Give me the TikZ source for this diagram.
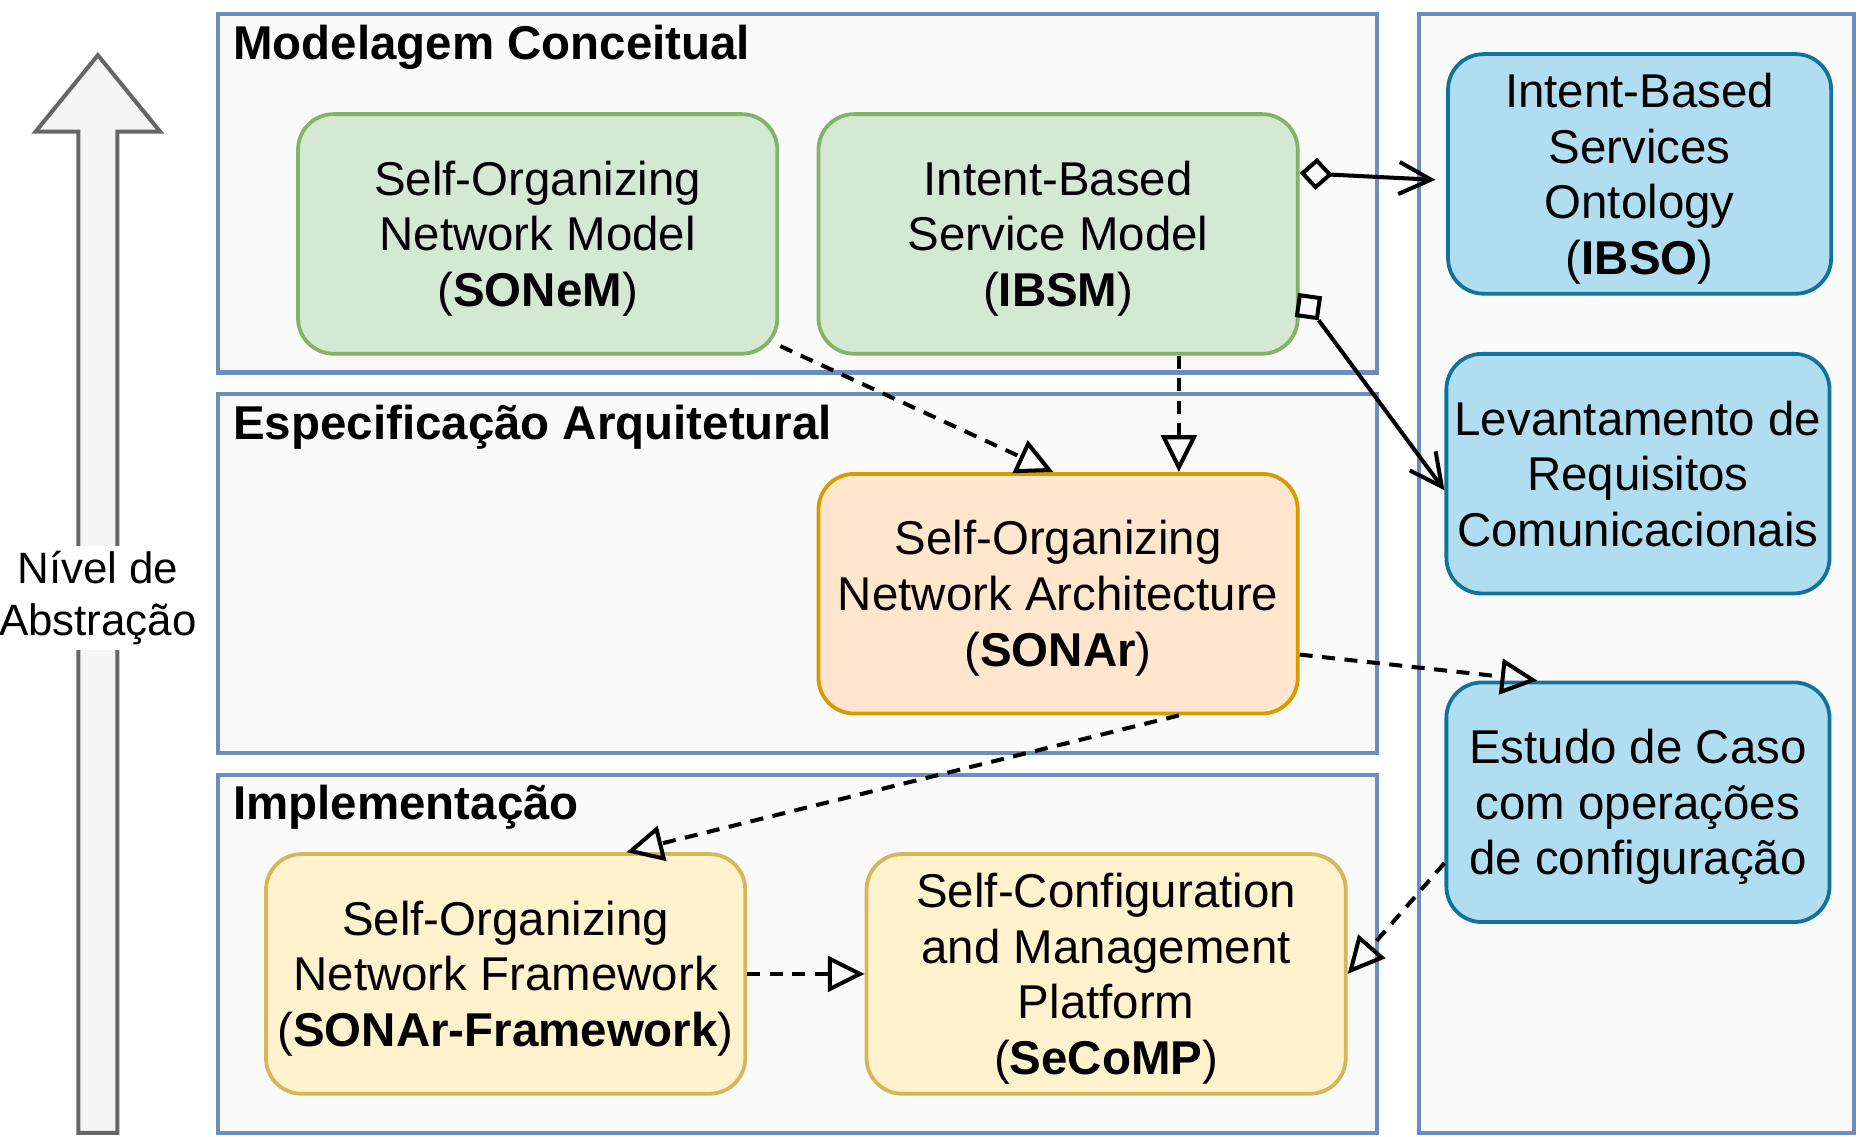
\documentclass[tikz,border=0pt]{standalone}
\usepackage{fontspec}
\setmainfont{Liberation Sans}
\usetikzlibrary{arrows.meta,calc}
\definecolor{contfill}{HTML}{FAFAFA}
\definecolor{contdraw}{HTML}{6C8EBF}
\definecolor{gfill}{HTML}{D5E8D4}
\definecolor{gdraw}{HTML}{82B366}
\definecolor{ofill}{HTML}{FFE6CC}
\definecolor{odraw}{HTML}{D79B00}
\definecolor{yfill}{HTML}{FFF2CC}
\definecolor{ydraw}{HTML}{D6B656}
\definecolor{bfill}{HTML}{B1DDF0}
\definecolor{bdraw}{HTML}{10739E}
\definecolor{afill}{HTML}{F5F5F5}
\definecolor{adraw}{HTML}{666666}
\newcommand{\topst}{\rule{0pt}{37pt}}
\newcommand{\botst}{\rule[-8pt]{0pt}{8pt}}
\begin{document}
\begin{tikzpicture}[x=1pt,y=-1pt,
  container/.style={draw=contdraw, fill=contfill, line width=3.5pt},
  box/.style={rounded corners=30pt, line width=3.2pt, minimum width=404pt, minimum height=202pt,
    align=center, inner sep=2pt, font=\fontsize{40}{47}\selectfont},
  greenbox/.style={box, fill=gfill, draw=gdraw},
  orangebox/.style={box, fill=ofill, draw=odraw},
  yellowbox/.style={box, fill=yfill, draw=ydraw},
  bluebox/.style={box, fill=bfill, draw=bdraw, minimum width=323pt},
  title/.style={anchor=base west, inner sep=0pt, font=\fontsize{40}{48}\selectfont\bfseries},
  dep/.style={line width=3.4pt, dash pattern=on 11pt off 8pt,
    -{Triangle[open, length=31pt, width=30pt]}},
  assoc/.style={line width=3.4pt},
  sqmark/.style={draw, line width=3.4pt, fill=contfill, minimum size=17pt, inner sep=0pt},
  bigarrow/.style={draw=adraw, fill=afill, line width=3.4pt, line join=miter}
]
\useasboundingbox (0,0) rectangle (1568,958);

% containers
\draw[container] (184,12) rectangle (1161,314);
\draw[container] (184,332) rectangle (1161,635);
\draw[container] (184,653) rectangle (1161,955);
\draw[container] (1196,12) rectangle (1563,955);

\node[title] (t1) at (196.5,50.5) {Modelagem Conceitual};
\node[title] (t2) at (196.5,370.5) {Especificação Arquitetural};
\node[title] (t3) at (196.5,690.5) {Implementação};

% abstraction arrow
\draw[bigarrow] (66,955) -- (66,111) -- (30,111) -- (82.5,46.5) -- (135,111) -- (99,111) -- (99,955) -- cycle;
\node[fill=white, inner sep=0pt, align=center, font=\fontsize{37}{44}\selectfont,
  minimum height=88pt, minimum width=166pt] (lbl) at (82.5,504) {Nível de\\Abstração};

% nodes
\node[greenbox] (sonem) at (453.25,197.2) {\topst Self-Organizing\\Network Model\\(\textbf{SONeM})\botst};
\node[greenbox] (ibsm) at (892,197.2) {\topst Intent-Based\\Service Model\\(\textbf{IBSM})\botst};
\node[orangebox] (sonar) at (892,500.5) {\topst Self-Organizing\\Network Architecture\\(\textbf{SONAr})\botst};
\node[yellowbox] (sonarf) at (426.25,821) {\topst Self-Organizing\\Network Framework\\(\textbf{SONAr-Framework})\botst};
\node[yellowbox] (secomp) at (932.5,821) {\topst Self-Configuration\\and Management\\Platform\\(\textbf{SeCoMP})\botst};
\node[bluebox] (ibso) at (1382.2,146.6) {\topst Intent-Based\\Services\\Ontology\\(\textbf{IBSO})\botst};
\node[bluebox] (lev) at (1380.8,399.3) {\topst Levantamento de\\Requisitos\\Comunicacionais\botst};
\node[bluebox] (estudo) at (1380.8,676.3) {\topst Estudo de Caso\\com operações\\de configuração\botst};

% connectors
\draw[dep] ($(sonem.south east)+(1,-8)$) -- ($(sonar.north)+(-4,0)$);
\draw[dep] ($(ibsm.south)!0.5!(ibsm.south east)$) -- ($(sonar.north)!0.5!(sonar.north east)$);
\draw[assoc, {Diamond[open, length=28pt, width=27pt]}-{Straight Barb[length=27pt, width=27pt]}]
  ($(ibsm.east)!0.5!(ibsm.north east)$) -- ($(ibso.west)+(-9,5)$);
\node[sqmark, rotate=-8] (sq) at (1103,258.5) {};
\draw[assoc, -{Straight Barb[length=27pt, width=27pt]}]
  (sq.south east) -- ($(lev.west)+(0,14)$);
\draw[dep] ($(sonar.east)!0.5!(sonar.south east)$) -- ($(estudo.north west)!0.24!(estudo.north east)$);
\draw[dep] ($(sonar.south)!0.5!(sonar.south east)$) -- ($(sonarf.north west)!0.75!(sonarf.north east)$);
\draw[dep] (sonarf.east) -- (secomp.west);
\draw[dep] ($(estudo.west)!0.5!(estudo.south west)$) -- (secomp.east);
\end{tikzpicture}
\end{document}
